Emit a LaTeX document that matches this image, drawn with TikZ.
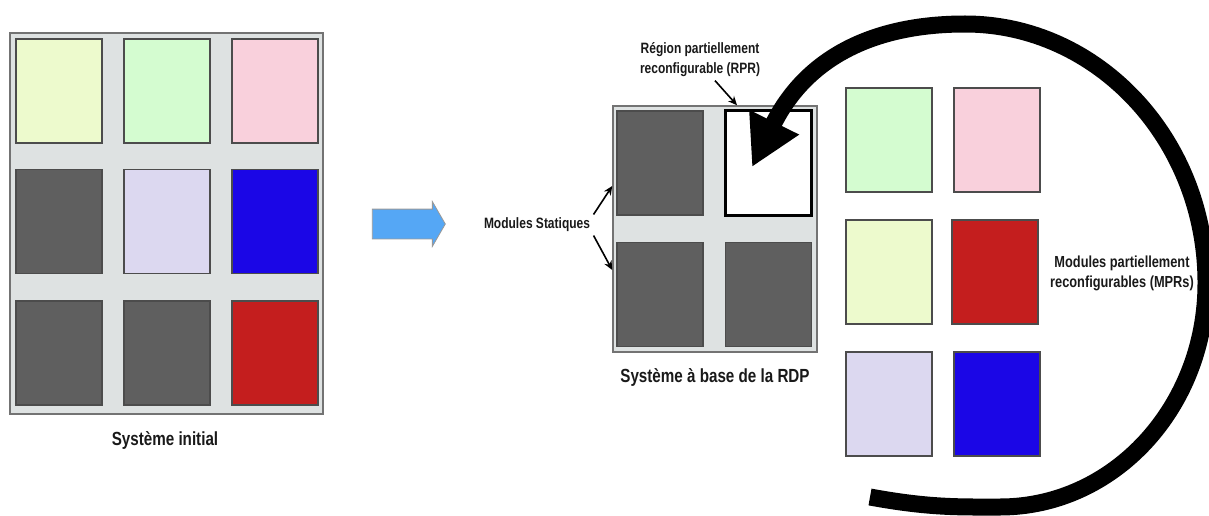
\documentclass[tikz,border=0pt]{standalone}
\usepackage{fontspec}
\setmainfont[FakeStretch=0.8]{Liberation Sans}
\usetikzlibrary{arrows.meta,shapes.arrows,calc}

\definecolor{jaune}{HTML}{EDFACD}
\definecolor{vert}{HTML}{D4FCD0}
\definecolor{rose}{HTML}{F9D0DC}
\definecolor{gris}{HTML}{5F5F5F}
\definecolor{lavande}{HTML}{DCD8F0}
\definecolor{bleu}{HTML}{1B06E6}
\definecolor{rouge}{HTML}{C41E1E}
\definecolor{fond}{HTML}{DEE2E2}
\definecolor{ciel}{HTML}{55A7F5}

\tikzset{
  module/.style={draw=black!70,line width=1.5pt,inner sep=0pt,
    minimum width=86pt,minimum height=104pt},
  libelle/.style={font=\bfseries\fontsize{15}{20}\selectfont,align=center,text=black!90},
  titre/.style={font=\bfseries\fontsize{19}{22}\selectfont,text=black!90}
}

\begin{document}
\begin{tikzpicture}[x=1pt,y=-1pt]
  \useasboundingbox (0,0) rectangle (1209,516);

  % les deux systemes
  \begin{scope}[every node/.style={draw=black!55,line width=1.5pt,fill=fond,inner sep=0pt}]
    \node[minimum width=313pt,minimum height=381pt] (si)  at (166.5,223.5) {};
    \node[minimum width=204pt,minimum height=246pt] (rdp) at (715,229) {};
  \end{scope}

  \begin{scope}[every node/.style={module}]
    % systeme initial
    \node[fill=jaune]   (i1) at (59,91)      {};
    \node[fill=vert]    (i2) at (167,91)     {};
    \node[fill=rose]    (i3) at (275,91)     {};
    \node[fill=gris]    (i4) at (59,221.5)   {};
    \node[fill=lavande] (i5) at (167,221.5)  {};
    \node[fill=bleu]    (i6) at (275,221.5)  {};
    \node[fill=gris]    (i7) at (59,353)     {};
    \node[fill=gris]    (i8) at (167,353)    {};
    \node[fill=rouge]   (i9) at (275,353)    {};
    % systeme a base de la RDP
    \node[fill=gris]    (r1) at (660,163)    {};
    \node[fill=white,draw=black,line width=3pt] (r2) at (768.5,163) {};
    \node[fill=gris]    (r3) at (660,294.5)  {};
    \node[fill=gris]    (r4) at (768.5,294.5) {};
    % modules partiellement reconfigurables
    \node[fill=vert]    (m1) at (889,140)    {};
    \node[fill=rose]    (m2) at (997,140)    {};
    \node[fill=jaune]   (m3) at (889,272)    {};
    \node[fill=rouge]   (m4) at (995,272)    {};
    \node[fill=lavande] (m5) at (889,404)    {};
    \node[fill=bleu]    (m6) at (997,404)    {};
  \end{scope}

  \node[single arrow,fill=ciel,draw=black!40,line width=.8pt,inner xsep=0pt,
    inner ysep=14.5pt,minimum height=73pt,single arrow head extend=7.5pt,
    single arrow tip angle=120] (fl) at (404.5,224) {};

  \begin{scope}[every node/.style={libelle}]
    \node (ms)  at (537,225)  {Modules Statiques};
    \node (rpr) at (700,60)   {Région partiellement\\reconfigurable (RPR)};
    \node[font=\bfseries\fontsize{16}{20}\selectfont] (mpr) at (1122,273)
      {Modules partiellement\\reconfigurables (MPRs)};
  \end{scope}
  \node[titre] (lsi)  at (165,440) {Système initial};
  \node[titre] (lrdp) at (715,378) {Système à base de la RDP};

  \begin{scope}[-{Stealth[length=9pt,width=8pt]},line width=1.6pt]
    \draw (ms.north east) -- ($(rdp.west)+(0,-43)$);
    \draw (ms.south east) -- ($(rdp.west)+(0,41)$);
    \draw ($(rpr.south)+(15,0)$) -- ($(rdp.north)+(22,0)$);
  \end{scope}

  % grande fleche de reconfiguration
  \coordinate (queue) at (870,497);
  \coordinate (pointe) at ($(r2.center)+(-16.5,4)$);
  \draw[line width=17pt,-{Triangle[length=50pt,width=52pt]}]
    (queue) .. controls (930,508) and (960,507) .. (1000,507)
    .. controls (1114,507) and (1206,407) .. (1206,283)
    .. controls (1206,140) and (1098,24) .. (965,24)
    .. controls (870,24) and (805,60) .. (pointe);

\end{tikzpicture}
\end{document}
